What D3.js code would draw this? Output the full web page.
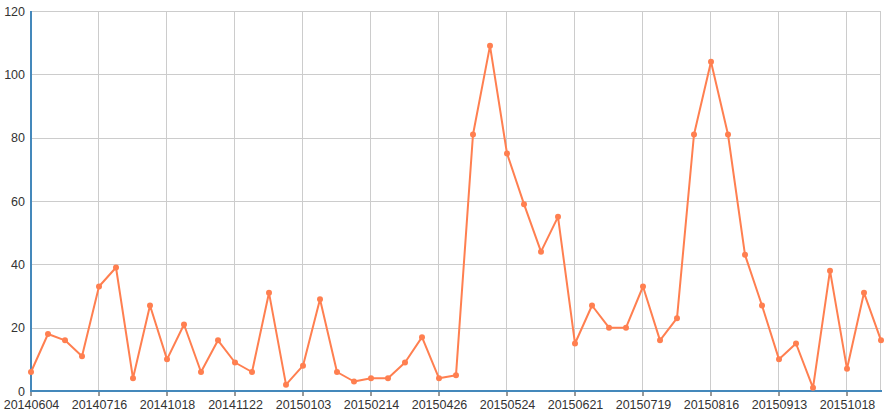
<!DOCTYPE html>
<html>
<head>
<meta charset="utf-8">
<script src="https://cdn.jsdelivr.net/npm/d3@7/dist/d3.min.js"></script>
<style>
html,body{margin:0;padding:0;background:#fff;}
svg{display:block;}
text{font-family:"Liberation Sans",Arial,sans-serif;}
</style>
</head>
<body>
<svg id="chart" width="893" height="420"></svg>
<script>
const categories = [
  "20140604","20140615","20140625","20140706","20140716","20140801","20140820","20140915",
  "20141018","20141025","20141101","20141115","20141122","20141129","20141206","20141220",
  "20150103","20150110","20150117","20150131","20150214","20150228","20150315","20150405",
  "20150426","20150503","20150510","20150517","20150524","20150531","20150607","20150614",
  "20150621","20150628","20150705","20150712","20150719","20150726","20150802","20150809",
  "20150816","20150823","20150830","20150906","20150913","20150920","20150927","20151011",
  "20151018","20151025","20151101"
];
const values = [
  6,18,16,11,33,39,4,27,10,21,6,16,9,6,31,2,8,29,6,3,4,4,9,17,4,5,
  81,109,75,59,44,55,15,27,20,20,33,16,23,81,104,81,43,27,10,15,1,38,7,31,16
];
const yTicks = [0,20,40,60,80,100,120];
const xTickLabels = categories.filter((d,i)=>i%4===0);

const svg = d3.select("#chart");
const mLeft = 31, mRight = 881, mTop = 11, mBottom = 391;

const x = d3.scalePoint().domain(categories).range([mLeft, mRight]);
const y = d3.scaleLinear().domain([0,120]).range([mBottom, mTop]);

// horizontal grid
svg.append("g").selectAll("line").data(yTicks).join("line")
  .attr("x1", mLeft).attr("x2", mRight)
  .attr("y1", d=>Math.round(y(d))+0.5).attr("y2", d=>Math.round(y(d))+0.5)
  .attr("stroke","#ccc").attr("stroke-width",1);

// vertical grid
const vgrid = xTickLabels.concat([categories[categories.length-1]]);
svg.append("g").selectAll("line").data(vgrid).join("line")
  .attr("x1", d=>Math.round(x(d))-0.5).attr("x2", d=>Math.round(x(d))-0.5)
  .attr("y1", mTop).attr("y2", mBottom)
  .attr("stroke","#ccc").attr("stroke-width",1);

// x axis
const xAxis = d3.axisBottom(x).tickValues(xTickLabels).tickSize(5).tickPadding(4);
const gx = svg.append("g").attr("transform",`translate(0,${mBottom})`).call(xAxis);
gx.select(".domain").remove();
gx.selectAll(".tick line").attr("stroke","#333").attr("transform","translate(-0.5,0)");
gx.selectAll(".tick text").attr("fill","#333").style("font-size","12.5px")
  .style("font-family","'Liberation Sans',Arial,sans-serif");
gx.append("line").attr("x1", mLeft-1).attr("x2", mRight+1).attr("y1",0).attr("y2",0)
  .attr("stroke","#4488bb").attr("stroke-width",2);

// y axis
const yAxis = d3.axisLeft(y).tickValues(yTicks).tickSize(0).tickPadding(6);
const gy = svg.append("g").attr("transform",`translate(${mLeft},0)`).call(yAxis);
gy.select(".domain").remove();
gy.selectAll(".tick text").attr("fill","#333").style("font-size","12.5px")
  .style("font-family","'Liberation Sans',Arial,sans-serif");
gy.append("line").attr("x1",0).attr("x2",0).attr("y1",mTop).attr("y2",mBottom+1)
  .attr("stroke","#4488bb").attr("stroke-width",2);

// line
const line = d3.line().x((d,i)=>x(categories[i])).y(d=>y(d));
svg.append("path").datum(values).attr("d", line)
  .attr("fill","none").attr("stroke","#ff7f50").attr("stroke-width",2)
  .attr("stroke-linejoin","round");

svg.append("g").selectAll("circle").data(values).join("circle")
  .attr("cx",(d,i)=>x(categories[i])).attr("cy",d=>y(d)).attr("r",3)
  .attr("fill","#ff7f50");
</script>
</body>
</html>
